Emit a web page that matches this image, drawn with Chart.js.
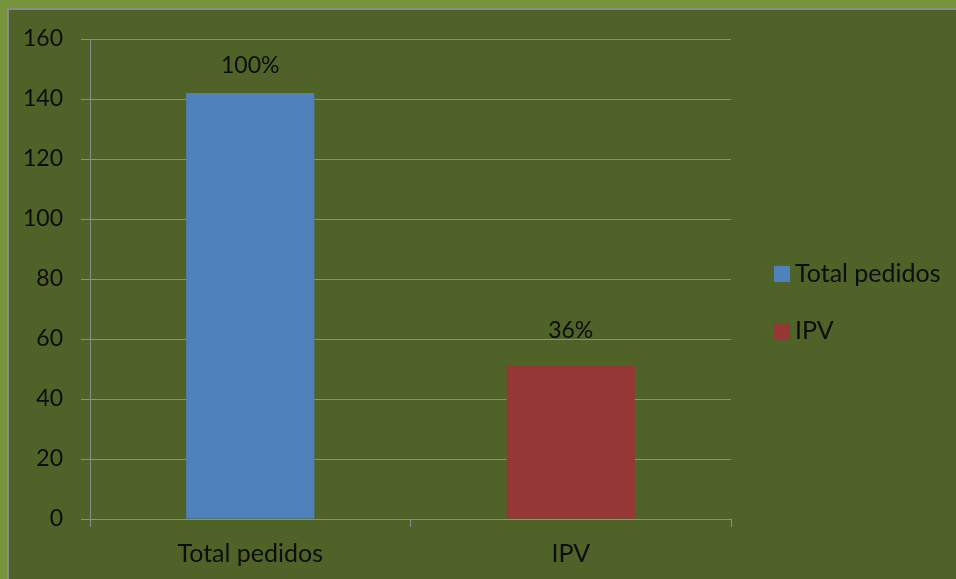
<!DOCTYPE html>
<html>
<head>
<meta charset="utf-8">
<script src="https://cdn.jsdelivr.net/npm/chart.js@4/dist/chart.umd.min.js"></script>
<style>
  html, body { margin: 0; padding: 0; background: #77933C; }
  #wrap { width: 956px; height: 579px; }
</style>
</head>
<body>
<div id="wrap"><canvas id="c" width="956" height="579"></canvas></div>
<script>
// data
var categories = ['Total pedidos', 'IPV'];
var values = [142, 51];
var barColors = ['#4F81BD', '#953735'];
var yTicks = [0, 20, 40, 60, 80, 100, 120, 140, 160];

var font = 'Lato, "Open Sans", sans-serif';
var textColor = '#0d0d0d';

// frame: light green border + olive panel
var frame = {
  id: 'frame',
  beforeDraw: function(chart){
    var c = chart.ctx;
    c.save();
    c.fillStyle = '#77933C';
    c.fillRect(0, 0, chart.width, chart.height);
    c.fillStyle = '#4F6228';
    c.fillRect(8, 9, chart.width - 8, chart.height - 9);
    c.strokeStyle = '#8a8a8a';
    c.lineWidth = 2;
    c.beginPath();
    c.moveTo(8, chart.height);
    c.lineTo(8, 9);
    c.lineTo(chart.width, 9);
    c.stroke();
    c.restore();
  }
};

// percent labels over the bars
var pctLabels = {
  id: 'pctLabels',
  afterDatasetsDraw: function(chart, args, opts){
    var c = chart.ctx;
    var meta = chart.getDatasetMeta(0);
    var total = values[0];
    c.save();
    c.font = '23px ' + font;
    c.fillStyle = textColor;
    c.textAlign = 'center';
    c.textBaseline = 'middle';
    meta.data.forEach(function(bar, i){
      var txt = Math.round(values[i] / total * 100) + '%';
      c.fillText(txt, bar.x, bar.y - opts.gap[i]);
    });
    c.restore();
  }
};

// legend at the right
var sideLegend = {
  id: 'sideLegend',
  afterDraw: function(chart, args, opts){
    var c = chart.ctx;
    c.save();
    c.font = '25px ' + font;
    c.textBaseline = 'middle';
    categories.forEach(function(name, i){
      var y = opts.y + i * opts.step;
      c.fillStyle = barColors[i];
      c.fillRect(opts.x, y - 8, 16, 16);
      c.fillStyle = textColor;
      c.fillText(name, opts.x + 21, y);
    });
    c.restore();
  }
};

new Chart(document.getElementById('c'), {
  type: 'bar',
  data: {
    labels: categories,
    datasets: [{
      data: values,
      backgroundColor: barColors,
      borderWidth: 0,
      barPercentage: 0.4,
      categoryPercentage: 1
    }]
  },
  options: {
    responsive: false,
    animation: false,
    events: [],
    layout: { padding: { left: 0, top: 39, right: 225, bottom: 0 } },
    plugins: {
      legend: { display: false },
      tooltip: { enabled: false },
      pctLabels: { gap: [27, 35] },
      sideLegend: { x: 774, y: 274, step: 57 }
    },
    scales: {
      x: {
        afterFit: function(s){ s.height = 60; },
        grid: { offset: true, drawOnChartArea: false, color: '#8c8c8c', tickLength: 8 },
        border: { color: '#8c8c8c' },
        ticks: { color: textColor, font: { family: font, size: 25 }, padding: 12 }
      },
      y: {
        min: 0, max: 160,
        afterFit: function(s){ s.width = 90; },
        afterBuildTicks: function(s){ s.ticks = yTicks.map(function(v){ return { value: v }; }); },
        grid: { color: '#8c8c8c', tickLength: 9 },
        border: { color: '#8c8c8c' },
        ticks: { color: textColor, font: { family: font, size: 23 }, padding: 18 }
      }
    }
  },
  plugins: [frame, pctLabels, sideLegend]
});
</script>
</body>
</html>
